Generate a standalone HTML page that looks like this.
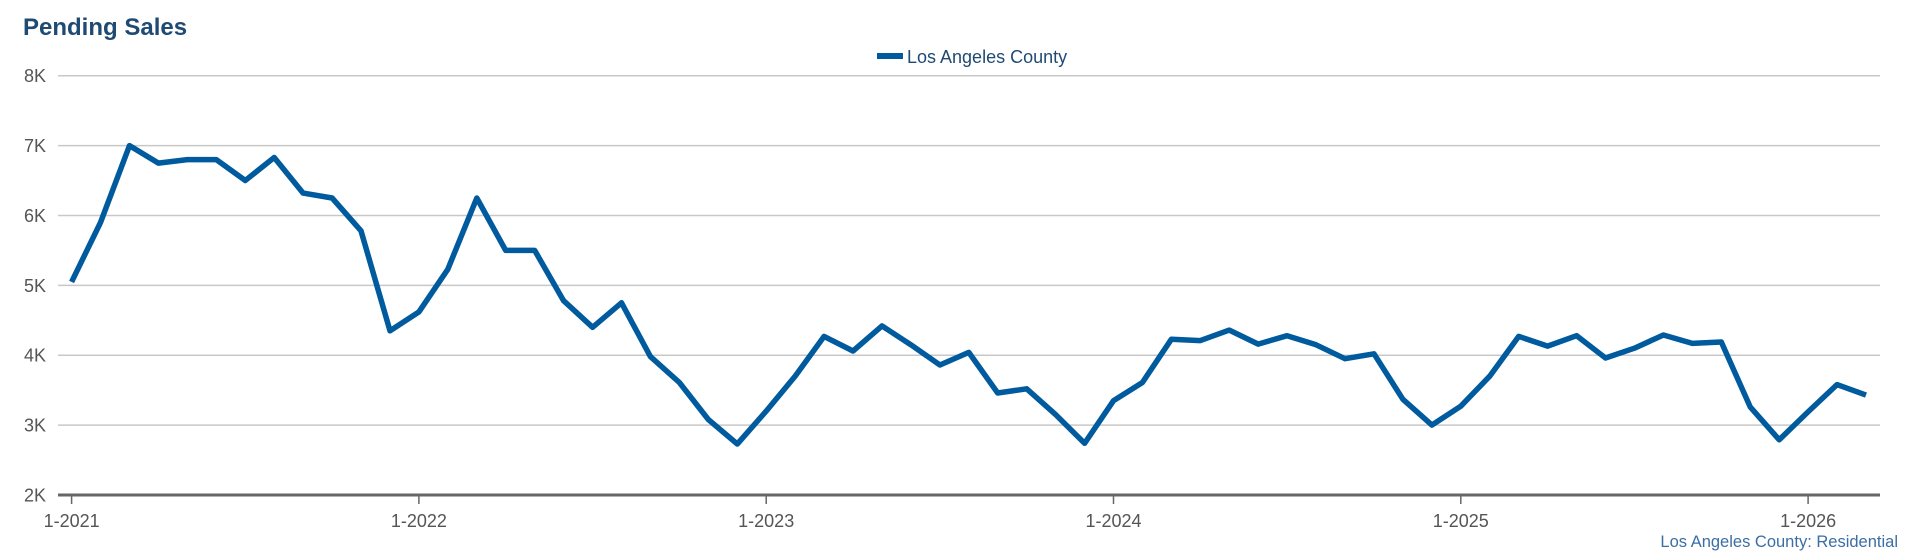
<!DOCTYPE html>
<html><head><meta charset="utf-8"><style>
body{margin:0;background:#fff;width:1920px;height:560px;overflow:hidden;font-family:"Liberation Sans",Arial,sans-serif}
svg{display:block}
</style></head><body>
<svg id="chart" width="1920" height="560">
<text x="23" y="35" font-size="24" font-weight="bold" fill="#1f4a73">Pending Sales</text>
<g>
<rect x="877" y="53" width="26" height="6" fill="#005a9e"/>
<text x="907" y="63" font-size="18" fill="#1f4a73">Los Angeles County</text>
</g>
<g id="grid"></g><g id="xaxis"></g>
<path id="line" fill="none" stroke="#005a9e" stroke-width="5.5" stroke-linejoin="round"/>
<text x="1898" y="547" font-size="16.5" fill="#3a6ea5" text-anchor="end">Los Angeles County: Residential</text>
</svg>
<script>
const yTicks=[2000,3000,4000,5000,6000,7000,8000];
const yTickLabels=["2K","3K","4K","5K","6K","7K","8K"];
const xTickLabels=["1-2021","1-2022","1-2023","1-2024","1-2025","1-2026"];
const values=[5050,5900,7000,6750,6800,6800,6500,6830,6320,6250,5780,4350,
4620,5230,6250,5500,5500,4780,4400,4750,3980,3610,3080,2730,
3200,3700,4270,4060,4420,4150,3860,4040,3460,3520,3150,2740,
3350,3610,4230,4210,4360,4160,4280,4150,3950,4020,3370,3000,
3270,3700,4270,4130,4280,3960,4100,4290,4170,4190,3260,2790,
3190,3580,3430];
const NS="http://www.w3.org/2000/svg";
const x=i=>71.6+i*(347.3/12);
const y=v=>495-(v-2000)*(419.3/6000);
const grid=document.getElementById('grid'),xa=document.getElementById('xaxis');
yTicks.forEach((t,i)=>{
 const l=document.createElementNS(NS,'line');
 l.setAttribute('x1',58);l.setAttribute('x2',1880);l.setAttribute('y1',y(t));l.setAttribute('y2',y(t));
 l.setAttribute('stroke',i===0?'#666':'#c8c8c8');l.setAttribute('stroke-width',i===0?3:1.5);
 
 
 grid.appendChild(l);
 const tx=document.createElementNS(NS,'text');
 tx.setAttribute('x',46);tx.setAttribute('y',y(t)+6.5);tx.setAttribute('text-anchor','end');
 tx.setAttribute('font-size','18');tx.setAttribute('fill','#555');tx.textContent=yTickLabels[i];
 
 
 grid.appendChild(tx);
});
xTickLabels.forEach((lab,i)=>{
 const xx=x(i*12);
 const tk=document.createElementNS(NS,'line');
 tk.setAttribute('x1',xx);tk.setAttribute('x2',xx);tk.setAttribute('y1',495);tk.setAttribute('y2',504);
 tk.setAttribute('stroke','#666');tk.setAttribute('stroke-width',1.5);
 
 
 xa.appendChild(tk);
 const tx=document.createElementNS(NS,'text');
 tx.setAttribute('x',xx);tx.setAttribute('y',527);tx.setAttribute('text-anchor','middle');
 tx.setAttribute('font-size','18');tx.setAttribute('fill','#555');tx.textContent=lab;
 
 
 xa.appendChild(tx);
});
document.getElementById('line').setAttribute('d',values.map((v,i)=>(i?'L':'M')+x(i).toFixed(1)+','+y(v).toFixed(1)).join(''));
</script>
</body></html>
